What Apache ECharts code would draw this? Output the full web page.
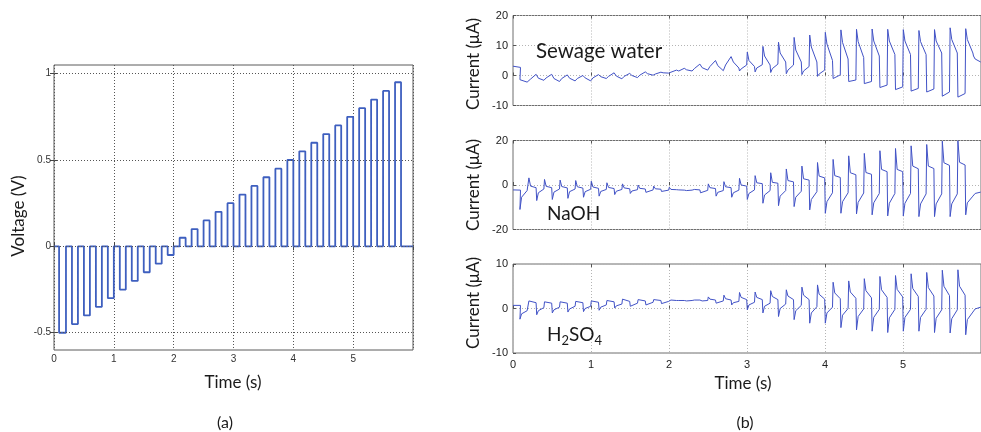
<!DOCTYPE html>
<html><head><meta charset="utf-8">
<script src="https://cdn.jsdelivr.net/npm/echarts@6/dist/echarts.min.js"></script>
<style>html,body{margin:0;padding:0;background:#fff}#c{width:981px;height:432px}</style>
</head><body><div id="c"></div>
<script>
// ---------- (a) voltage pulse train ----------
const pulseOn    = [0.085,0.3,0.5,0.7,0.9,1.1,1.3,1.5,1.7,1.9,2.1,2.3,2.5,2.7,2.9,3.1,3.3,3.5,3.7,3.9,4.1,4.3,4.5,4.7,4.9,5.1,5.3,5.5,5.7];
const pulseOff   = [0.2,0.4,0.6,0.8,1.0,1.2,1.4,1.6,1.8,2.0,2.2,2.4,2.6,2.8,3.0,3.2,3.4,3.6,3.8,4.0,4.2,4.4,4.6,4.8,5.0,5.2,5.4,5.6,5.8];
const pulseLevel = [-0.5,-0.45,-0.4,-0.35,-0.3,-0.25,-0.2,-0.15,-0.1,-0.05,0.05,0.1,0.15,0.2,0.25,0.3,0.35,0.4,0.45,0.5,0.55,0.6,0.65,0.7,0.75,0.8,0.85,0.9,0.95];
const timeTicks  = [0,1,2,3,4,5];
const voltTicks  = [-0.5,0,0.5,1];

// ---------- (b) currents: one triplet per half period (spike, after 25 ms, end) ----------
const halfStarts = [0,0.085,0.2,0.3,0.4,0.5,0.6,0.7,0.8,0.9,1.0,1.1,1.2,1.3,1.4,1.5,1.6,1.7,1.8,1.9,2.0,2.1,2.2,2.3,2.4,2.5,2.6,2.7,2.8,2.9,3.0,3.1,3.2,3.3,3.4,3.5,3.6,3.7,3.8,3.9,4.0,4.1,4.2,4.3,4.4,4.5,4.6,4.7,4.8,4.9,5.0,5.1,5.2,5.3,5.4,5.5,5.6,5.7,5.8,5.9];

const sewStart = 3.1;
const sewA = [3.0,-1.4,-2.0,0.2,-1.4,0.1,-1.8,0.0,-1.6,-0.2, -1.5,0.1,-0.8,0.6,-0.9,0.5,-0.5,1.0,0.2,1.0, 0.9,1.6,2.2,1.7,3.4,2.1,4.6,2.0,6.0,1.5, 7.8,1.2,9.7,1.0,11.1,0.6,12.7,0.3,13.5,-0.3, 14.4,-1.0,15.2,-2.0,15.4,-2.7,15.5,-4.0,15.4,-4.7, 15.3,-5.2,15.0,-5.5,15.3,-6.9,15.9,-7.2,15.6,6.5];
const sewB = [2.9,-1.9,-1.2,-0.9,-0.8,-1.0,-1.0,-0.9,-1.0,-0.8, -0.8,-0.4,-0.3,-0.2,-0.3,0.0,0.1,0.6,0.5,0.9, 1.1,1.5,1.9,2.3,2.6,3.0,3.3,3.5,4.5,2.2, 5.0,2.5,6.5,2.3,7.5,1.8,8.5,1.5,9.5,0.5, 10.5,-0.9,11.0,-2.1,11.3,-2.6,11.5,-3.8,11.5,-4.5, 11.5,-5.0,11.3,-5.3,11.5,-6.5,12.0,-6.8,12.0,5.5];
const sewC = [2.7,-2.2,0.4,-1.6,0.4,-2.0,0.2,-1.8,0.0,-1.8, 0.3,-1.0,0.9,-1.1,0.7,-0.7,1.2,0.1,1.1,0.8, 1.8,2.4,1.5,3.8,1.8,5.0,1.6,6.3,2.5,3.5, 3.0,3.6,3.5,3.8,4.5,3.5,4.5,3.0,4.5,1.8, 5.0,0.2,5.5,-1.5,6.0,-2.0,6.5,-3.2,7.0,-3.8, 7.0,-4.3,7.0,-4.5,7.5,-5.5,7.5,-6.0,7.5,4.5];

const naStart = -2.2;
const naA = [-2.2,-11.0,3.2,-7.0,2.5,-6.5,2.2,-6.0,2.0,-5.5, 1.7,-5.0,1.0,-4.3,0.5,-3.8,0.0,-3.3,-0.5,-2.9, -1.0,-1.8,-2.8,-1.5,-3.5,0.5,-5.0,1.5,-5.5,3.0, -6.5,4.2,-8.2,5.5,-9.3,7.2,-9.7,8.5,-11.2,10.1, -12.7,11.5,-12.7,13.1,-13.0,14.2,-13.4,15.4,-13.9,16.4, -13.9,17.6,-14.2,18.2,-14.2,19.7,-14.2,19.9,-13.4,-4.5];
const naB = [-2.2,-5.5,-0.5,-3.5,-0.6,-3.2,-0.7,-3.0,-0.8,-3.0, -0.9,-2.9,-1.1,-2.8,-1.3,-2.7,-1.5,-2.6,-1.7,-2.5, -2.0,-2.2,-2.5,-2.0,-2.8,-1.2,-3.3,-0.8,-3.5,0.0, -3.8,1.0,-4.5,1.2,-5.0,2.0,-5.5,2.8,-6.5,4.0, -7.5,4.2,-7.5,5.5,-7.8,5.6,-8.0,7.0,-8.2,7.0, -8.2,8.5,-8.5,8.5,-8.5,10.0,-8.5,10.2,-8.0,-3.8];
const naC = [-2.3,-2.5,-1.2,-1.8,-1.2,-1.8,-1.3,-1.8,-1.4,-1.9, -1.5,-2.0,-1.6,-2.0,-1.7,-2.1,-1.8,-2.2,-1.9,-2.3, -2.1,-2.3,-2.3,-2.2,-2.4,-1.6,-2.5,-1.2,-2.3,-0.5, -2.2,0.6,-2.5,0.8,-2.5,1.4,-2.8,2.2,-3.0,3.2, -3.5,3.4,-3.5,4.6,-3.6,4.8,-3.8,6.0,-3.8,6.0, -3.8,7.3,-4.0,7.4,-4.0,8.8,-4.0,9.0,-5.0,-3.2];

const h2Start = 0.7;
const h2A = [0.7,-2.4,1.7,-1.4,1.5,-1.0,1.5,-0.8,1.6,-0.7, 1.7,-0.4,1.8,0.1,2.1,0.5,2.0,0.8,2.0,1.1, 2.0,1.9,1.6,2.1,1.5,2.6,1.2,3.0,0.8,3.6, -0.3,3.7,-1.0,4.0,-1.8,4.2,-2.5,4.8,-3.3,5.3, -3.3,5.9,-4.3,6.2,-4.8,6.7,-5.1,7.2,-5.4,7.4, -5.1,7.8,-5.1,8.1,-5.4,8.6,-5.5,8.7,-5.9,-0.5];
const h2B = [0.7,-1.2,1.4,-0.5,1.3,-0.3,1.3,-0.1,1.4,0.0, 1.5,0.3,1.6,0.6,1.7,0.9,1.8,1.2,1.8,1.4, 1.9,1.8,1.7,1.9,1.7,2.1,1.5,2.2,1.3,2.5, 0.8,2.5,0.5,2.7,0.0,2.8,-0.5,3.0,-1.0,3.2, -1.0,3.5,-1.5,3.7,-1.8,4.0,-2.0,4.2,-2.1,4.3, -2.0,4.5,-2.0,4.7,-2.2,5.0,-2.3,5.0,-2.5,-0.1];
const h2C = [0.7,-0.5,1.3,0.2,1.2,0.3,1.2,0.5,1.3,0.5, 1.4,0.8,1.5,1.0,1.6,1.2,1.7,1.4,1.8,1.6, 1.8,1.8,1.8,1.9,1.8,1.9,1.7,1.9,1.6,2.0, 1.4,2.0,1.2,2.0,1.0,2.0,0.7,2.0,0.4,2.1, 0.3,2.2,0.0,2.3,-0.1,2.4,-0.2,2.5,-0.2,2.6, -0.2,2.7,-0.2,2.8,-0.3,2.9,-0.3,3.0,-0.8,0.3];

// ---------- build series data ----------
function pulseTrain() {
  const d = [[0, 0]];
  pulseLevel.forEach((lv, k) => {
    d.push([pulseOn[k], 0], [pulseOn[k], lv], [pulseOff[k], lv], [pulseOff[k], 0]);
  });
  d.push([6, 0]);
  return d;
}
const knotOffsets = [0.004, 0.025, 0.096];
function trace(start, A, B, C) {
  const d = [[0, start]];
  halfStarts.forEach((h, i) => {
    d.push([h + knotOffsets[0], A[i]], [h + knotOffsets[1], B[i]], [h + knotOffsets[2], C[i]]);
  });
  return d;
}

const TICK_FONT = 'Liberation Sans';
const LABEL_FONT = 'Lato';
const traceColor = '#4152c6';

const chart = echarts.init(document.getElementById('c'), null, {renderer: 'canvas'});

const gridsB = [
  {top: 15.5, height: 90},
  {top: 140.5, height: 89},
  {top: 264, height: 89}
];
const yRangesB = [
  {min: -10, max: 20, interval: 10},
  {min: -20, max: 20, interval: 20},
  {min: -10, max: 10, interval: 10}
];

const grid = [{left: 54, top: 65, width: 359, height: 285, show: true, borderColor: '#5a5a5a', borderWidth: 1, backgroundColor: 'transparent'}];
gridsB.forEach(g => grid.push({left: 513, top: g.top, width: 473.4, height: g.height, show: true, borderColor: '#6e6e6e', borderWidth: 1, backgroundColor: 'transparent'}));

const xAxis = [
  {gridIndex: 0, type: 'value', min: 0, max: 6, interval: 1, position: 'bottom',
   axisLine: {show: false}, axisTick: {inside: true, length: 4, lineStyle: {color: '#444'}},
   axisLabel: {margin: 4, fontSize: 10, color: '#333', fontFamily: TICK_FONT, showMaxLabel: false,
               formatter: v => timeTicks.indexOf(v) >= 0 ? String(v) : ''},
   splitLine: {show: true, lineStyle: {type: [1, 2], color: '#555', width: 1}}},
  {gridIndex: 0, type: 'value', min: 0, max: 6, interval: 1, position: 'top',
   axisLine: {show: false}, axisTick: {inside: true, length: 4, lineStyle: {color: '#444'}},
   axisLabel: {show: false}, splitLine: {show: false}}
];
const yAxis = [
  {gridIndex: 0, type: 'value', min: -0.6, max: 1.05, position: 'left',
   axisLine: {show: false},
   axisTick: {inside: true, length: 4, customValues: voltTicks, lineStyle: {color: '#444'}},
   axisLabel: {customValues: voltTicks, margin: 3, fontSize: 10, color: '#333', fontFamily: TICK_FONT, formatter: v => String(v)},
   splitLine: {show: false}},
  {gridIndex: 0, type: 'value', min: -0.6, max: 1.05, position: 'right',
   axisLine: {show: false},
   axisTick: {inside: true, length: 4, customValues: voltTicks, lineStyle: {color: '#444'}},
   axisLabel: {show: false}, splitLine: {show: false}}
];
gridsB.forEach((g, j) => {
  const gi = j + 1;
  xAxis.push({gridIndex: gi, type: 'value', min: 0, max: 6, interval: 1, position: 'bottom',
    axisLine: {show: false}, axisTick: {inside: true, length: 3, lineStyle: {color: '#555'}},
    axisLabel: {show: j === 2, margin: 6, fontSize: 11, color: '#222', fontFamily: TICK_FONT, showMaxLabel: false,
                formatter: v => timeTicks.indexOf(v) >= 0 ? String(v) : ''},
    splitLine: {show: true, lineStyle: {type: [1, 2], color: '#b4b4b4', width: 1}}});
  xAxis.push({gridIndex: gi, type: 'value', min: 0, max: 6, interval: 1, position: 'top',
    axisLine: {show: false}, axisTick: {inside: true, length: 3, lineStyle: {color: '#555'}},
    axisLabel: {show: false}, splitLine: {show: false}});
  yAxis.push({gridIndex: gi, type: 'value', min: yRangesB[j].min, max: yRangesB[j].max, interval: yRangesB[j].interval, position: 'left',
    axisLine: {show: false}, axisTick: {inside: true, length: 3, lineStyle: {color: '#555'}},
    axisLabel: {margin: 5, fontSize: 11, color: '#222', fontFamily: TICK_FONT},
    splitLine: {show: true, lineStyle: {type: [1, 2], color: '#b4b4b4', width: 1}}});
});

const series = [
  // dotted y grid lines for panel (a), drawn beneath the pulse train
  {type: 'line', xAxisIndex: 0, yAxisIndex: 0, data: [[0, 0]], symbol: 'none', z: 1,
   lineStyle: {opacity: 0}, silent: true,
   markLine: {silent: true, symbol: ['none', 'none'], label: {show: false}, animation: false,
              lineStyle: {type: [1, 2], color: '#555', width: 1},
              data: voltTicks.map(v => ({yAxis: v}))}},
  {type: 'line', name: 'Voltage', xAxisIndex: 0, yAxisIndex: 0, data: pulseTrain(), symbol: 'none', z: 3,
   lineStyle: {color: '#3e5fbf', width: 1.8}},
  {type: 'line', name: 'Sewage water', xAxisIndex: 2, yAxisIndex: 2, data: trace(sewStart, sewA, sewB, sewC), symbol: 'none', z: 3,
   lineStyle: {color: traceColor, width: 1}},
  {type: 'line', name: 'NaOH', xAxisIndex: 4, yAxisIndex: 3, data: trace(naStart, naA, naB, naC), symbol: 'none', z: 3,
   lineStyle: {color: traceColor, width: 1}},
  {type: 'line', name: 'H2SO4', xAxisIndex: 6, yAxisIndex: 4, data: trace(h2Start, h2A, h2B, h2C), symbol: 'none', z: 3,
   lineStyle: {color: traceColor, width: 1}}
];

function txt(x, y, s, size, rot) {
  return {type: 'text', x: x, y: y, rotation: rot || 0, z: 10,
    style: {text: s, fontFamily: LABEL_FONT, fontSize: size, fill: '#1a1a1a', align: 'center', verticalAlign: 'middle'}};
}
const graphic = [
  txt(19, 216, 'Voltage (V)', 17, Math.PI / 2),
  txt(233, 383, 'Time (s)', 17, 0),
  txt(225, 423, '(a)', 16, 0),
  txt(474, 64, 'Current (μA)', 17, Math.PI / 2),
  txt(474, 185, 'Current (μA)', 17, Math.PI / 2),
  txt(474, 303, 'Current (μA)', 17, Math.PI / 2),
  txt(743, 384, 'Time (s)', 17, 0),
  txt(745, 423, '(b)', 16, 0),
  {type: 'text', x: 536, y: 51, z: 10, style: {text: 'Sewage water', fontFamily: LABEL_FONT, fontSize: 20.5, fill: '#1a1a1a', align: 'left', verticalAlign: 'middle'}},
  {type: 'text', x: 547, y: 214, z: 10, style: {text: 'NaOH', fontFamily: LABEL_FONT, fontSize: 19, fill: '#1a1a1a', align: 'left', verticalAlign: 'middle'}},
  {type: 'text', x: 547, y: 333, z: 10, style: {
    text: '{n|H}{s|2}{n|SO}{s|4}', fontFamily: LABEL_FONT, fill: '#1a1a1a', align: 'left', verticalAlign: 'middle',
    rich: {n: {fontSize: 19, fontFamily: LABEL_FONT, fill: '#1a1a1a', verticalAlign: 'bottom', lineHeight: 22},
           s: {fontSize: 13, fontFamily: LABEL_FONT, fill: '#1a1a1a', verticalAlign: 'bottom', lineHeight: 16, padding: [0, 0, -3, 0]}}}}
];

chart.setOption({animation: false, backgroundColor: '#ffffff', grid, xAxis, yAxis, series, graphic});
</script></body></html>
